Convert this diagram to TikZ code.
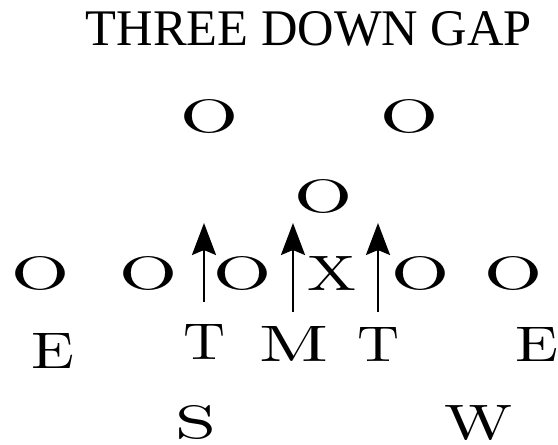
\documentclass[tikz,border=0pt]{standalone}
\usepackage{fontspec}
\usepackage{graphicx}
\newfontfamily\timesf{Liberation Serif}
\usetikzlibrary{arrows.meta}
\tikzset{
  glyph/.style={inner sep=0pt, outer sep=0pt, anchor=center},
  run/.style={line width=2.3pt, -{Stealth[length=32pt, width=24pt, inset=5pt]}},
}
\newcommand{\ovl}{\resizebox{58pt}{33pt}{O}}
\newcommand{\lbl}[3]{\resizebox{#1}{#2}{#3}}
\begin{document}
\begin{tikzpicture}[x=1pt, y=-1pt]
\useasboundingbox (0,0) rectangle (558,445);
% title
\node[glyph] (title) at (309,29) {\resizebox{446pt}{34pt}{\timesf THREE DOWN GAP}};
% linebackers / safeties
\node[glyph] (lb1) at (210,117) {\ovl};
\node[glyph] (lb2) at (410,117) {\ovl};
\node[glyph] (lb3) at (324,196.5) {\ovl};
% line
\node[glyph] (o1) at (41,273.5) {\ovl};
\node[glyph] (o2) at (149,273.5) {\ovl};
\node[glyph] (o3) at (242.5,273.5) {\ovl};
\node[glyph] (x)  at (331.5,273.5) {\resizebox{49pt}{34pt}{X}};
\node[glyph] (o4) at (421,273.5) {\ovl};
\node[glyph] (o5) at (514,273.5) {\ovl};
% arrows
\coordinate (a1s) at (204,302);
\coordinate (a1e) at (204,223);
\coordinate (a2s) at (293,312);
\coordinate (a2e) at (293,223);
\coordinate (a3s) at (378,312);
\coordinate (a3e) at (378,223);
\draw[run] (a1s) -- (a1e);
\draw[run] (a2s) -- (a2e);
\draw[run] (a3s) -- (a3e);
% labels
\node[glyph] (e1) at (53.5,351) {\lbl{43pt}{35pt}{E}};
\node[glyph] (t1) at (205,342) {\lbl{42pt}{35pt}{T}};
\node[glyph] (m)  at (294.5,344) {\lbl{69pt}{35pt}{M}};
\node[glyph] (t2) at (379,344) {\lbl{42pt}{34pt}{T}};
\node[glyph] (e2) at (537,344) {\lbl{43pt}{34pt}{E}};
\node[glyph] (s)  at (196.5,423) {\lbl{41pt}{33pt}{S}};
\node[glyph] (w)  at (479,423) {\lbl{68pt}{34pt}{W}};
\end{tikzpicture}
\end{document}
